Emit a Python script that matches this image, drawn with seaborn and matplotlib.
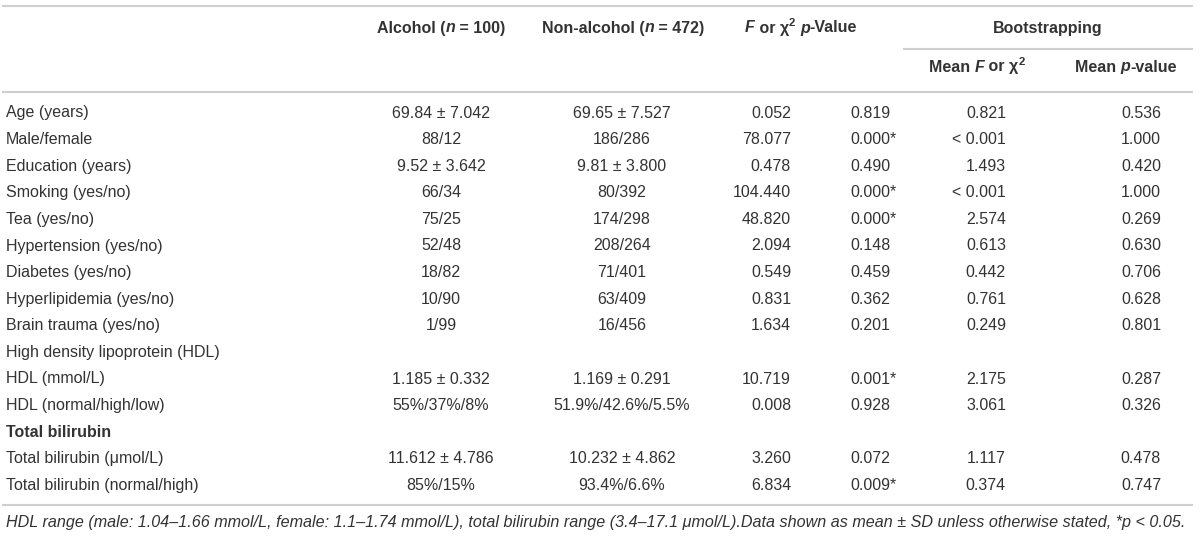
import matplotlib
matplotlib.use('Agg')
import matplotlib.pyplot as plt
import seaborn as sns

# Table content
row_labels = ['Age (years)', 'Male/female', 'Education (years)', 'Smoking (yes/no)',
              'Tea (yes/no)', 'Hypertension (yes/no)', 'Diabetes (yes/no)',
              'Hyperlipidemia (yes/no)', 'Brain trauma (yes/no)',
              'High density lipoprotein (HDL)', 'HDL (mmol/L)', 'HDL (normal/high/low)',
              'Total bilirubin', 'Total bilirubin (\u03bcmol/L)', 'Total bilirubin (normal/high)']
row_bold = [False] * 12 + [True, False, False]
alcohol = ['69.84 \u00b1 7.042', '88/12', '9.52 \u00b1 3.642', '66/34', '75/25', '52/48',
           '18/82', '10/90', '1/99', '', '1.185 \u00b1 0.332', '55%/37%/8%', '',
           '11.612 \u00b1 4.786', '85%/15%']
non_alcohol = ['69.65 \u00b1 7.527', '186/286', '9.81 \u00b1 3.800', '80/392', '174/298',
               '208/264', '71/401', '63/409', '16/456', '', '1.169 \u00b1 0.291',
               '51.9%/42.6%/5.5%', '', '10.232 \u00b1 4.862', '93.4%/6.6%']
f_stat = ['0.052', '78.077', '0.478', '104.440', '48.820', '2.094', '0.549', '0.831',
          '1.634', '', '10.719', '0.008', '', '3.260', '6.834']
p_val = ['0.819', '0.000*', '0.490', '0.000*', '0.000*', '0.148', '0.459', '0.362',
         '0.201', '', '0.001*', '0.928', '', '0.072', '0.009*']
boot_f = ['0.821', '< 0.001', '1.493', '< 0.001', '2.574', '0.613', '0.442', '0.761',
          '0.249', '', '2.175', '3.061', '', '1.117', '0.374']
boot_p = ['0.536', '1.000', '0.420', '1.000', '0.269', '0.630', '0.706', '0.628',
          '0.801', '', '0.287', '0.326', '', '0.478', '0.747']
footnote = ('HDL range (male: 1.04\u20131.66 mmol/L, female: 1.1\u20131.74 mmol/L), total bilirubin '
            'range (3.4\u201317.1 \u03bcmol/L).Data shown as mean \u00b1 SD unless otherwise stated, *p < 0.05.')

sns.set_theme(style='white')
plt.rcParams['font.family'] = ['Liberation Sans', 'DejaVu Sans']

TXT = '#333333'
LINE = '#cfcfcf'
FS = 11.5

fig = plt.figure(figsize=(12, 5.37), dpi=100)
ax = fig.add_axes([0, 0, 1, 1])
ax.set_xlim(0, 1200)
ax.set_ylim(537, 0)
ax.axis('off')
renderer = fig.canvas.get_renderer()


def rich(x, y, parts, size=FS):
    # parts: list of (text, style, superscript) -- all bold, centred on x
    objs = []
    cur = 0.0
    for txt, style, up in parts:
        fs = size * 0.72 if up else size
        t = ax.text(0, y - (5 if up else 0), txt, fontsize=fs, fontweight='bold',
                    fontstyle=style, color=TXT, va='center', ha='left')
        w = t.get_window_extent(renderer=renderer).width
        objs.append((t, cur))
        cur += w
    start = x - cur / 2
    for t, off in objs:
        t.set_x(start + off)


# rules
ax.hlines([6, 92, 505], 2, 1193, color=LINE, linewidth=1.5)
ax.hlines(49, 903, 1193, color=LINE, linewidth=1.5)

# header
N, I = 'normal', 'italic'
rich(441, 28, [('Alcohol (', N, False), ('n', I, False), (' = 100)', N, False)])
rich(623, 28, [('Non-alcohol (', N, False), ('n', I, False), (' = 472)', N, False)])
rich(801, 28, [('F', I, False), (' or \u03c7', N, False), ('2', N, True),
               (' ', N, False), ('p', I, False), ('-Value', N, False)])
rich(1048, 28, [('Bootstrapping', N, False)])
rich(977, 67, [('Mean ', N, False), ('F', I, False), (' or \u03c7', N, False), ('2', N, True)])
rich(1126, 67, [('Mean ', N, False), ('p', I, False), ('-value', N, False)])

# body
y0, dy = 113, 26.6
for i, lab in enumerate(row_labels):
    y = y0 + i * dy
    ax.text(6, y, lab, fontsize=FS, color=TXT, va='center', ha='left',
            fontweight='bold' if row_bold[i] else 'normal')
    ax.text(441, y, alcohol[i], fontsize=FS, color=TXT, va='center', ha='center')
    ax.text(622, y, non_alcohol[i], fontsize=FS, color=TXT, va='center', ha='center')
    ax.text(791, y, f_stat[i], fontsize=FS, color=TXT, va='center', ha='right')
    ax.text(850, y, p_val[i], fontsize=FS, color=TXT, va='center', ha='left')
    ax.text(1006, y, boot_f[i], fontsize=FS, color=TXT, va='center', ha='right')
    ax.text(1161, y, boot_p[i], fontsize=FS, color=TXT, va='center', ha='right')

ax.text(6, 522, footnote, fontsize=11.6, color=TXT, va='center', ha='left', fontstyle='italic')

fig.savefig('out.png', dpi=100)
